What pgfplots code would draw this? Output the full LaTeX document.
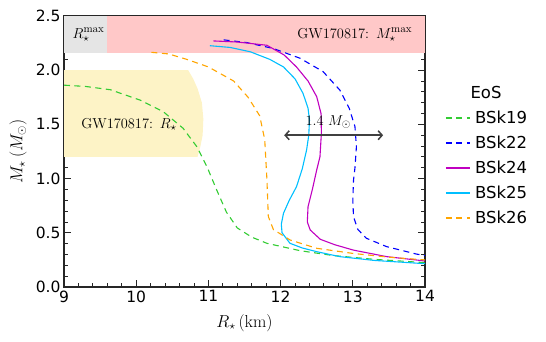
\documentclass[border=0pt]{standalone}
\usepackage[no-math]{fontspec}
\usepackage{pgfplots}
\pgfplotsset{compat=1.18}
\usetikzlibrary{arrows.meta}
\newfontfamily\dejavu{DejaVu Sans}
\definecolor{bskgreen}{HTML}{33CC33}
\definecolor{bskblue}{HTML}{0000FF}
\definecolor{bskmag}{HTML}{C000C0}
\definecolor{bskcyan}{HTML}{00BFFF}
\definecolor{bskorange}{HTML}{FFA500}
\definecolor{rmaxgray}{HTML}{E5E5E5}
\definecolor{mmaxpink}{HTML}{FFC8C8}
\definecolor{radyellow}{HTML}{FDF3C6}
\tikzset{dsh/.style={dash pattern=on 6pt off 4.5pt}}

\begin{document}
\begin{tikzpicture}
\begin{axis}[
  at={(0pt,0pt)}, anchor=south west,
  scale only axis,
  width=361pt, height=271pt,
  xmin=9, xmax=14, ymin=0, ymax=2.5,
  clip mode=individual,
  xtick={9,10,...,14},
  ytick={0,0.5,...,2.5},
  minor x tick num=4, minor y tick num=4,
  tick align=inside,
  xtick pos=both, ytick pos=both,
  major tick length=7pt, minor tick length=4pt,
  axis line style={draw=black!85, line width=1.1pt},
  every tick/.style={black!85, line width=0.9pt},
  /pgf/number format/assume math mode=true,
  ticklabel style={font=\dejavu\fontsize{15.5}{18}\selectfont},
  yticklabel style={/pgf/number format/.cd, fixed, fixed zerofill, precision=1},
  xticklabel style={/pgf/number format/.cd, fixed, precision=0},
  xlabel={$R_\star\,(\mathrm{km})$},
  ylabel={$M_\star\,(M_\odot)$},
  label style={font=\fontsize{18}{20}\selectfont},
  xlabel style={at={(axis description cs:0.5,-0.133)}, anchor=center},
  ylabel style={at={(axis description cs:-0.127,0.5)}, anchor=center},
  legend style={at={(axis description cs:1.055,0.655)}, anchor=north west,
    draw=none, fill=none, inner sep=0pt, row sep=9pt,
    font=\dejavu\fontsize{16.5}{19}\selectfont,
    nodes={inner xsep=4.5pt, inner ysep=1pt, anchor=west}},
  legend cell align=left,
  legend image code/.code={\draw[#1, line width=1.6pt] (0pt,0pt) -- (24pt,0pt);},
]
% shaded constraints
\addplot[fill=rmaxgray, draw=none, forget plot] coordinates {
  (9,2.156) (9.6,2.156) (9.6,2.5) (9,2.5)} -- cycle;
\addplot[fill=mmaxpink, draw=none, forget plot] coordinates {
  (9.6,2.156) (14,2.156) (14,2.5) (9.6,2.5)} -- cycle;
\addplot[fill=radyellow, draw=none, forget plot] coordinates {
  (9,1.2) (10.85,1.2) (10.89,1.3) (10.92,1.4) (10.93,1.55) (10.91,1.7)
  (10.85,1.83) (10.79,1.92) (10.72,2.0) (9,2.0)} -- cycle;

% BSk19
\addplot[bskgreen, line width=1.1pt, dsh] coordinates {
  (9.00,1.862) (9.3,1.850) (9.64,1.82) (10.05,1.725) (10.375,1.617)
  (10.65,1.464) (10.84,1.294) (10.98,1.11) (11.115,0.895) (11.25,0.69)
  (11.4,0.545) (11.6,0.46) (11.81,0.403) (12.27,0.335) (12.73,0.29)
  (13.3,0.255) (14,0.225)};
\addlegendentry{BSk19}
% BSk22
\addplot[bskblue, line width=1.1pt, dsh] coordinates {
  (11.21,2.28) (11.53,2.255) (11.9,2.2) (12.27,2.11) (12.59,1.986)
  (12.82,1.817) (12.95,1.65) (13.03,1.479) (13.05,1.294) (13.03,1.1)
  (13.01,0.987) (13.0,0.8) (13.01,0.649) (13.07,0.53) (13.19,0.449)
  (13.47,0.372) (13.88,0.304) (14,0.29)};
\addlegendentry{BSk22}
% BSk24
\addplot[bskmag, line width=1.1pt] coordinates {
  (11.07,2.27) (11.4,2.26) (11.81,2.23) (12.05,2.14) (12.22,2.03)
  (12.38,1.9) (12.50,1.756) (12.56,1.6) (12.565,1.42) (12.545,1.2)
  (12.5,1.08) (12.44,0.9) (12.38,0.74) (12.37,0.6) (12.41,0.526)
  (12.55,0.44) (12.75,0.39) (13.01,0.34) (13.47,0.28) (14,0.24)};
\addlegendentry{BSk24}
% BSk25
\addplot[bskcyan, line width=1.1pt] coordinates {
  (11.02,2.226) (11.3,2.21) (11.58,2.17) (11.85,2.1) (12.04,2.03)
  (12.2,1.92) (12.31,1.787) (12.38,1.65) (12.40,1.54) (12.39,1.4)
  (12.36,1.264) (12.3,1.09) (12.22,0.925) (12.12,0.8) (12.04,0.68)
  (12.01,0.58) (12.02,0.5) (12.13,0.403) (12.3,0.36) (12.5,0.326)
  (12.82,0.28) (13.3,0.245) (14,0.215)};
\addlegendentry{BSk25}
% BSk26
\addplot[bskorange, line width=1.1pt, dsh] coordinates {
  (10.21,2.165) (10.45,2.15) (10.7,2.1) (11.0,2.03) (11.35,1.9)
  (11.55,1.75) (11.71,1.58) (11.78,1.36) (11.81,1.0) (11.83,0.65)
  (11.9,0.53) (12.13,0.434) (12.5,0.357) (13.0,0.31) (13.5,0.275)
  (14,0.25)};
\addlegendentry{BSk26}

% annotations
\node[font=\fontsize{15}{17}\selectfont] at (axis cs:9.34,2.325) {$R_\star^{\max}$};
\node[font=\fontsize{15}{17}\selectfont, anchor=east] at (axis cs:13.87,2.325)
  {$\mathrm{GW170817}{:}\ \,M_\star^{\max}$};
\node[font=\fontsize{15}{17}\selectfont, anchor=west] at (axis cs:9.19,1.495)
  {$\mathrm{GW170817}{:}\ \,R_\star$};
\draw[{Straight Barb[length=4pt,width=9pt]}-{Straight Barb[length=4pt,width=9pt]},
  black!75, line width=1.5pt] (axis cs:12.05,1.4) -- (axis cs:13.42,1.4);
\node[font=\fontsize{15}{17}\selectfont] at (axis cs:12.66,1.52) {$1.4\ M_\odot$};
\node[font=\dejavu\fontsize{16.5}{19}\selectfont] at (axis description cs:1.169,0.716) {EoS};
\end{axis}
\pgfresetboundingbox
\path (-64pt,-55pt) rectangle (482pt,287pt);
\end{tikzpicture}
\end{document}
